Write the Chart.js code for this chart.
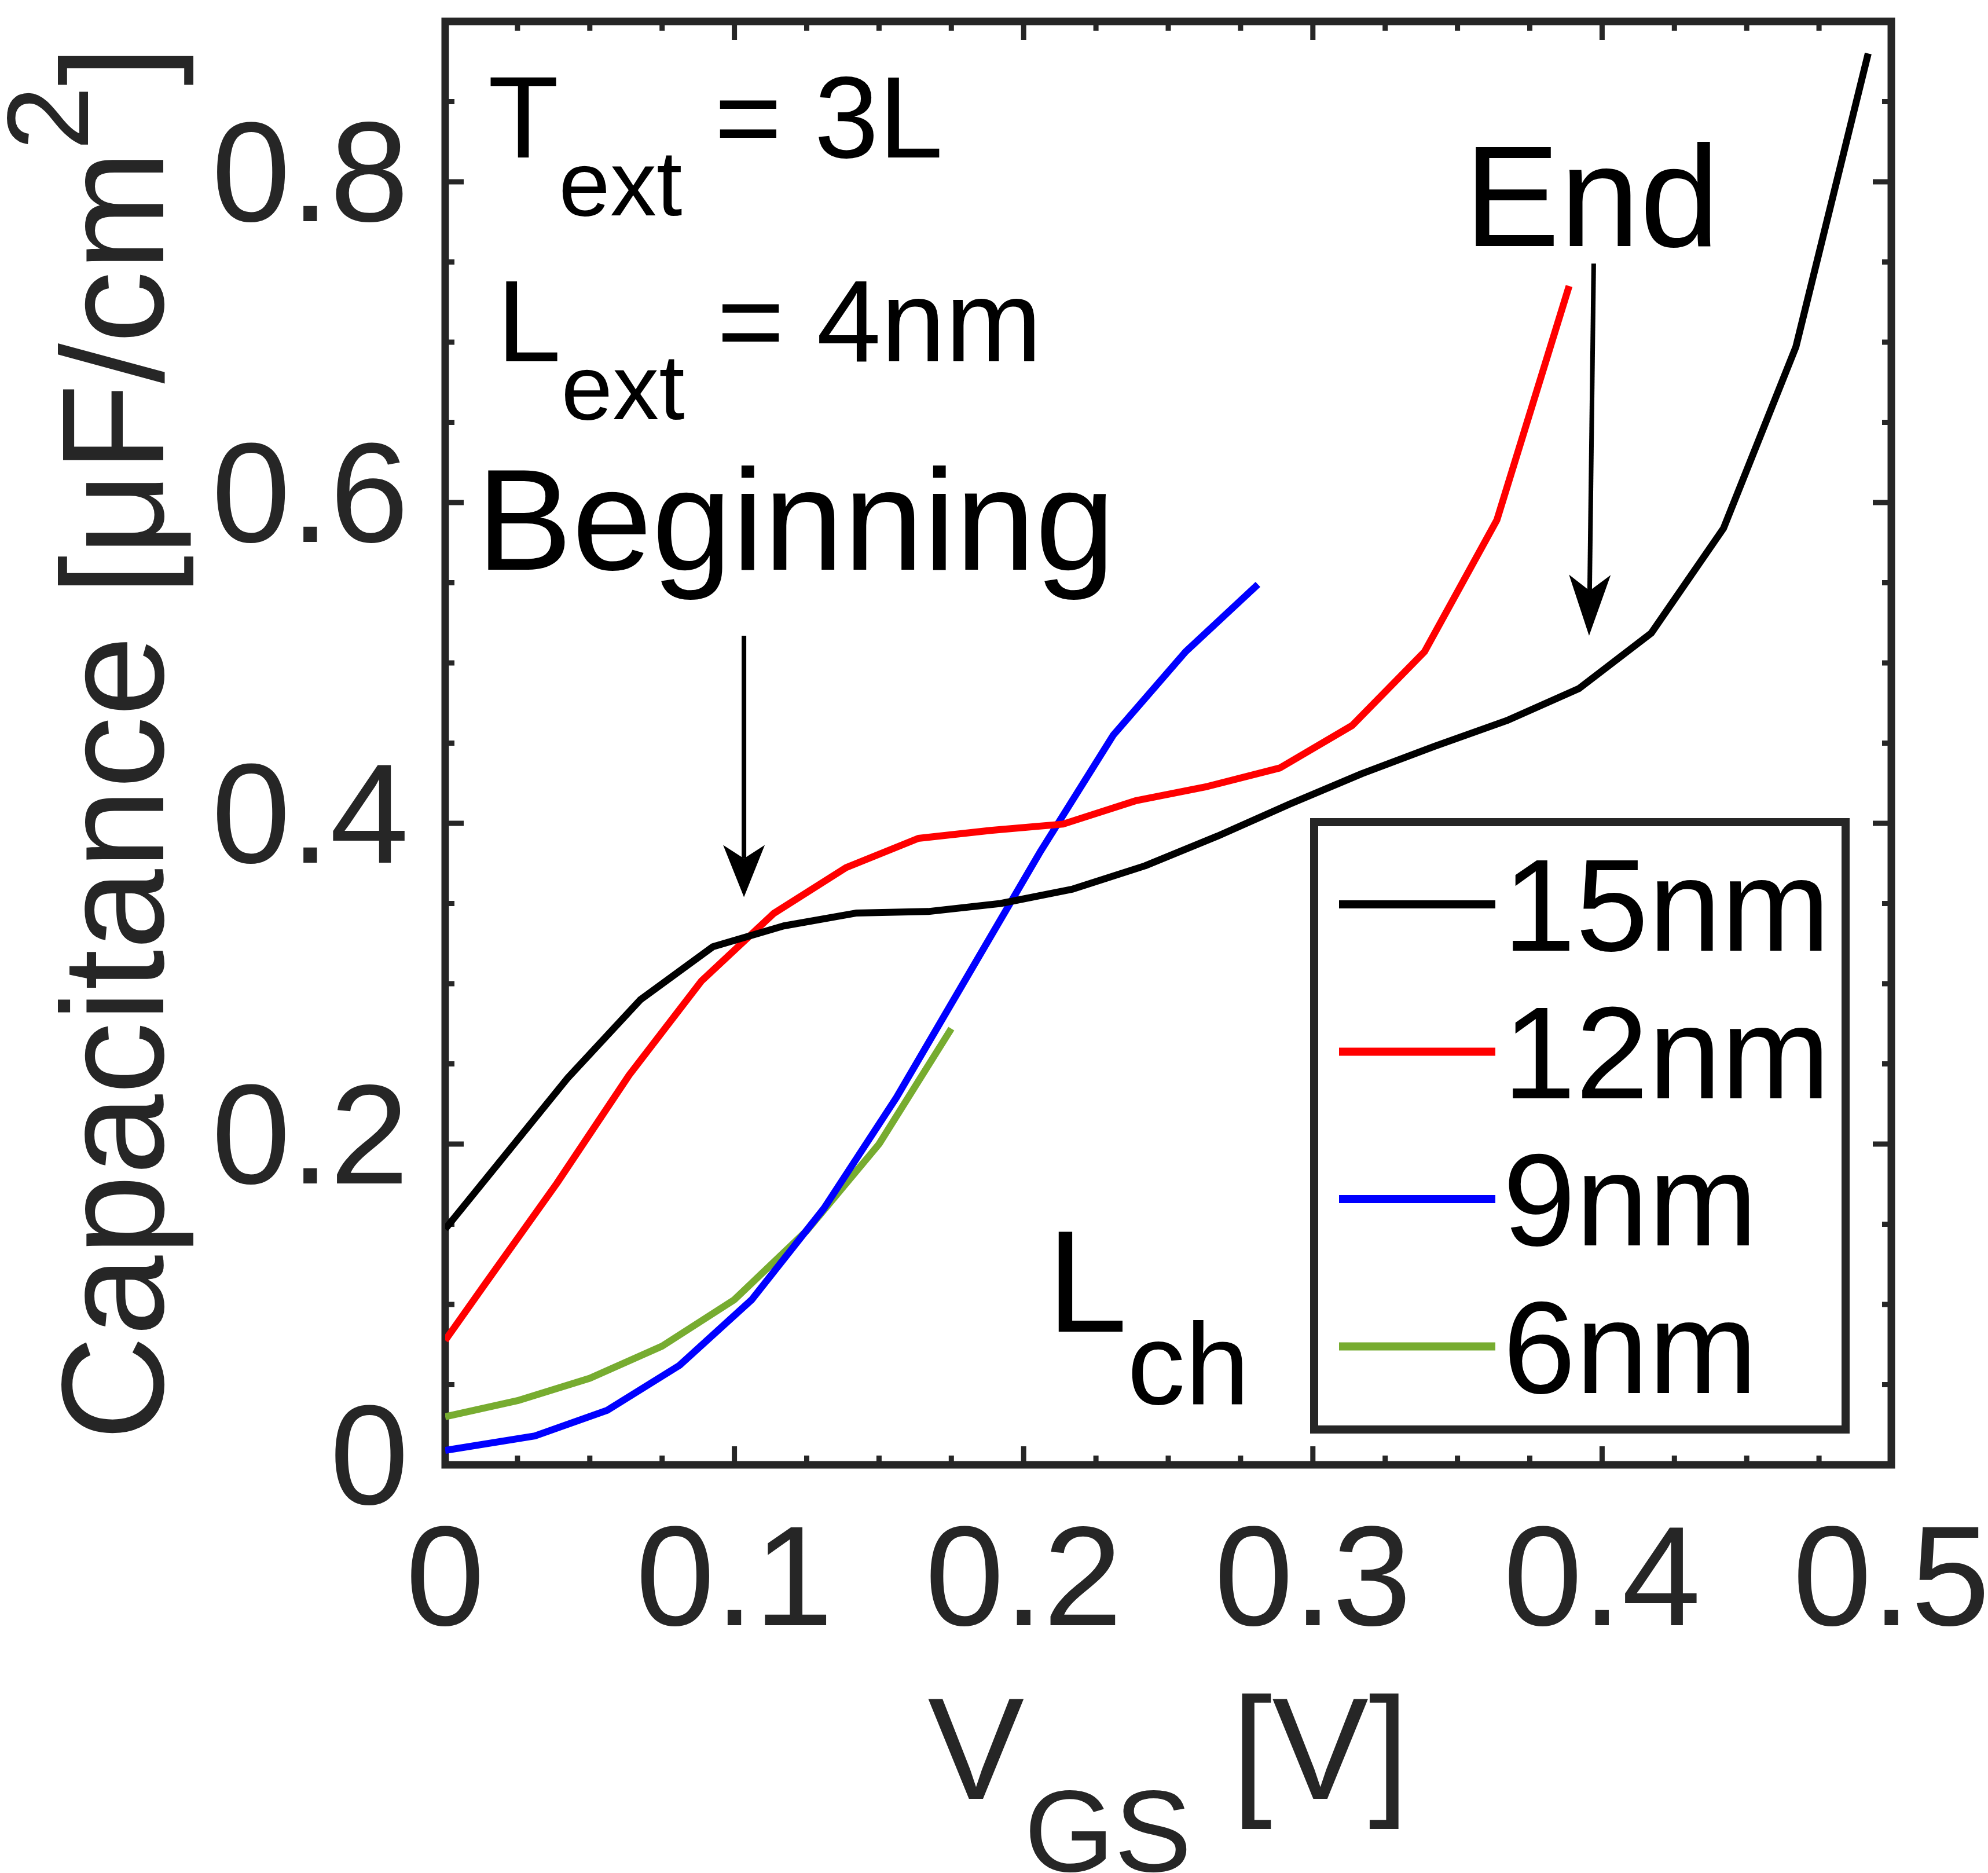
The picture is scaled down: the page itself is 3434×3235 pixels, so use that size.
<!DOCTYPE html>
<html>
<head>
<meta charset="utf-8">
<script src="https://cdn.jsdelivr.net/npm/chart.js@4.4.1/dist/chart.umd.min.js"></script>
<style>
  html, body { margin: 0; padding: 0; background: #fff; }
  canvas { display: block; }
</style>
</head>
<body>
<canvas id="cv" width="3434" height="3235"></canvas>
<script>
// series (V_GS in V, capacitance in uF/cm^2)
const seriesLabels = ['15nm', '12nm', '9nm', '6nm'];
const seriesColors = ['#000000', '#ff0000', '#0000ff', '#77ac30'];

const vgs15 = [0, 0.0425, 0.0675, 0.0925, 0.117, 0.142, 0.167, 0.192, 0.217, 0.242, 0.267, 0.292, 0.317, 0.342, 0.367, 0.392, 0.417, 0.442, 0.467, 0.492];
const cap15 = [0.147, 0.2415, 0.290, 0.323, 0.336, 0.344, 0.345, 0.350, 0.359, 0.3735, 0.392, 0.412, 0.431, 0.448, 0.464, 0.484, 0.5186, 0.584, 0.697, 0.880];

const vgs12 = [0, 0.0136, 0.0386, 0.0636, 0.0886, 0.1136, 0.1386, 0.1636, 0.1886, 0.2136, 0.2386, 0.2636, 0.2886, 0.3136, 0.3386, 0.3636, 0.3886];
const cap12 = [0.0776, 0.1123, 0.1755, 0.243, 0.3017, 0.3438, 0.3724, 0.3906, 0.3956, 0.3995, 0.414, 0.423, 0.4345, 0.461, 0.507, 0.589, 0.735];

const vgs9 = [0, 0.031, 0.056, 0.081, 0.106, 0.131, 0.156, 0.181, 0.206, 0.231, 0.256, 0.281];
const cap9 = [0.009, 0.018, 0.034, 0.062, 0.103, 0.160, 0.229, 0.306, 0.383, 0.455, 0.507, 0.549];

const vgs6 = [0, 0.025, 0.05, 0.075, 0.1, 0.125, 0.15, 0.175];
const cap6 = [0.030, 0.040, 0.054, 0.074, 0.103, 0.146, 0.200, 0.272];

const xTicks = [0, 0.1, 0.2, 0.3, 0.4, 0.5];
const yTicks = [0, 0.2, 0.4, 0.6, 0.8];

const FONT = "'Liberation Sans', Arial, sans-serif";
const AXIS = '#262626';

function pts(xs, ys) {
  return xs.map((x, i) => ({ x: x, y: ys[i] }));
}

// draw text made of pieces: [text, size factor, vertical shift in em]
function rich(ctx, x, y, size, parts) {
  let cx = x;
  for (const [t, k, dy] of parts) {
    ctx.font = (size * k) + 'px ' + FONT;
    ctx.fillText(t, cx, y + dy * size);
    cx += ctx.measureText(t).width;
  }
  return cx - x;
}
function richWidth(ctx, size, parts) {
  let w = 0;
  for (const [t, k] of parts) {
    ctx.font = (size * k) + 'px ' + FONT;
    w += ctx.measureText(t).width;
  }
  return w;
}

// text labels placed in data units (left edge, baseline)
const notes = [
  { x: 0.0148, y: 0.815, size: 200, parts: [['T', 1, 0], ['ext', 0.8, 0.5], [' = 3L', 1, 0]] },
  { x: 0.0178, y: 0.688, size: 200, parts: [['L', 1, 0], ['ext', 0.8, 0.5], [' = 4nm', 1, 0]] },
  { x: 0.0108, y: 0.558, size: 248, parts: [['Beginning', 1, 0]] },
  { x: 0.3523, y: 0.760, size: 248, parts: [['End', 1, 0]] },
  { x: 0.208, y: 0.083, size: 250, parts: [['L', 1, 0], ['ch', 0.8, 0.5]] }
];
const arrows = [
  { x0: 0.1033, y0: 0.517, x1: 0.1033, y1: 0.354, head: 90 },
  { x0: 0.3971, y0: 0.749, x1: 0.3955, y1: 0.517, head: 105 }
];

// box, inward ticks on all four sides
const frame = {
  id: 'frame',
  beforeDatasetsDraw(chart) {
    const { ctx, chartArea: a } = chart;
    const xs = chart.scales.x, ys = chart.scales.y;
    ctx.save();
    ctx.strokeStyle = AXIS;
    ctx.lineWidth = 9;
    ctx.beginPath();
    for (let i = 0; i <= 20; i++) {
      const px = xs.getPixelForValue(i * 0.025);
      const len = i % 4 === 0 ? 32 : 16;
      ctx.moveTo(px, a.bottom); ctx.lineTo(px, a.bottom - len);
      ctx.moveTo(px, a.top); ctx.lineTo(px, a.top + len);
    }
    for (let i = 0; i <= 18; i++) {
      const py = ys.getPixelForValue(i * 0.05);
      const len = i % 4 === 0 ? 32 : 16;
      ctx.moveTo(a.left, py); ctx.lineTo(a.left + len, py);
      ctx.moveTo(a.right, py); ctx.lineTo(a.right - len, py);
    }
    ctx.stroke();
    ctx.lineWidth = 13;
    ctx.strokeRect(a.left, a.top, a.right - a.left, a.bottom - a.top);
    ctx.restore();
  }
};

const notesPlugin = {
  id: 'notes',
  afterDatasetsDraw(chart) {
    const ctx = chart.ctx;
    const xs = chart.scales.x, ys = chart.scales.y;
    ctx.save();
    ctx.fillStyle = '#000';
    ctx.textAlign = 'left';
    ctx.textBaseline = 'alphabetic';
    for (const n of notes) {
      rich(ctx, xs.getPixelForValue(n.x), ys.getPixelForValue(n.y), n.size, n.parts);
    }
    ctx.strokeStyle = '#000';
    ctx.lineWidth = 8;
    for (const ar of arrows) {
      const x0 = xs.getPixelForValue(ar.x0), y0 = ys.getPixelForValue(ar.y0);
      const x1 = xs.getPixelForValue(ar.x1), y1 = ys.getPixelForValue(ar.y1);
      const ang = Math.atan2(y1 - y0, x1 - x0);
      const ux = Math.cos(ang), uy = Math.sin(ang);
      const nx = -uy, ny = ux;
      const L = ar.head, W = 36, N = 0.74 * L;
      ctx.beginPath();
      ctx.moveTo(x0, y0);
      ctx.lineTo(x1 - N * ux, y1 - N * uy);
      ctx.stroke();
      ctx.beginPath();
      ctx.moveTo(x1, y1);
      ctx.lineTo(x1 - L * ux + W * nx, y1 - L * uy + W * ny);
      ctx.lineTo(x1 - N * ux, y1 - N * uy);
      ctx.lineTo(x1 - L * ux - W * nx, y1 - L * uy - W * ny);
      ctx.closePath();
      ctx.fill();
    }
    ctx.restore();
  }
};

const legendBox = {
  id: 'legendBox',
  afterDraw(chart) {
    const { ctx, chartArea: a } = chart;
    const w = 918, h = 1049;
    const left = a.right - 79 - w, top = a.bottom - 61 - h;
    ctx.save();
    ctx.fillStyle = '#fff';
    ctx.fillRect(left, top, w, h);
    ctx.strokeStyle = AXIS;
    ctx.lineWidth = 14;
    ctx.strokeRect(left, top, w, h);
    ctx.font = '226px ' + FONT;
    ctx.textAlign = 'left';
    ctx.textBaseline = 'alphabetic';
    chart.data.datasets.forEach((ds, i) => {
      const ry = top + 142 + i * 254.5;
      ctx.strokeStyle = ds.borderColor;
      ctx.lineWidth = 14;
      ctx.beginPath();
      ctx.moveTo(left + 43, ry);
      ctx.lineTo(left + 313, ry);
      ctx.stroke();
      ctx.fillStyle = '#000';
      ctx.fillText(ds.label, left + 326, ry + 80);
    });
    ctx.restore();
  }
};

const axisTitles = {
  id: 'axisTitles',
  afterDraw(chart) {
    const { ctx, chartArea: a } = chart;
    ctx.save();
    ctx.fillStyle = AXIS;
    ctx.textAlign = 'left';
    ctx.textBaseline = 'alphabetic';
    const xParts = [['V', 1, 0], ['GS', 0.8, 0.5], [' [V]', 1, 0]];
    const xw = richWidth(ctx, 250, xParts);
    rich(ctx, (a.left + a.right) / 2 - xw / 2, 3107, 250, xParts);

    const yParts = [['Capacitance [\u03bcF/cm', 1, 0], ['2', 0.8, -0.52], [']', 1, 0]];
    const yw = richWidth(ctx, 250, yParts);
    ctx.translate(282, (a.top + a.bottom) / 2);
    ctx.rotate(-Math.PI / 2);
    rich(ctx, -yw / 2, 0, 250, yParts);
    ctx.restore();
  }
};

const tickFont = { family: FONT, size: 245 };

new Chart(document.getElementById('cv'), {
  type: 'line',
  data: {
    datasets: [
      { label: seriesLabels[0], data: pts(vgs15, cap15), borderColor: seriesColors[0] },
      { label: seriesLabels[1], data: pts(vgs12, cap12), borderColor: seriesColors[1] },
      { label: seriesLabels[2], data: pts(vgs9, cap9), borderColor: seriesColors[2] },
      { label: seriesLabels[3], data: pts(vgs6, cap6), borderColor: seriesColors[3] }
    ]
  },
  options: {
    responsive: false,
    devicePixelRatio: 1,
    animation: false,
    layout: { padding: { left: 0, right: 167, top: 37, bottom: 0 } },
    elements: {
      line: { borderWidth: 12, tension: 0, fill: false, borderCapStyle: 'butt', borderJoinStyle: 'round' },
      point: { radius: 0, hoverRadius: 0 }
    },
    plugins: {
      legend: { display: false },
      tooltip: { enabled: false },
      title: { display: false }
    },
    scales: {
      x: {
        type: 'linear',
        position: 'bottom',
        min: 0,
        max: 0.5,
        grid: { display: false, drawTicks: false },
        border: { display: false },
        ticks: { font: tickFont, color: AXIS, padding: 62, maxRotation: 0, callback: v => String(v) },
        afterBuildTicks: s => { s.ticks = xTicks.map(v => ({ value: v })); },
        afterFit: s => { s.height = 705; s.paddingLeft = 0; s.paddingRight = 0; }
      },
      y: {
        type: 'linear',
        position: 'left',
        min: 0,
        max: 0.9,
        grid: { display: false, drawTicks: false },
        border: { display: false },
        ticks: { font: tickFont, color: AXIS, padding: 63, callback: v => String(v) },
        afterBuildTicks: s => { s.ticks = yTicks.map(v => ({ value: v })); },
        afterFit: s => { s.width = 769; s.paddingTop = 0; s.paddingBottom = 0; }
      }
    }
  },
  plugins: [frame, notesPlugin, legendBox, axisTitles]
});
</script>
</body>
</html>
